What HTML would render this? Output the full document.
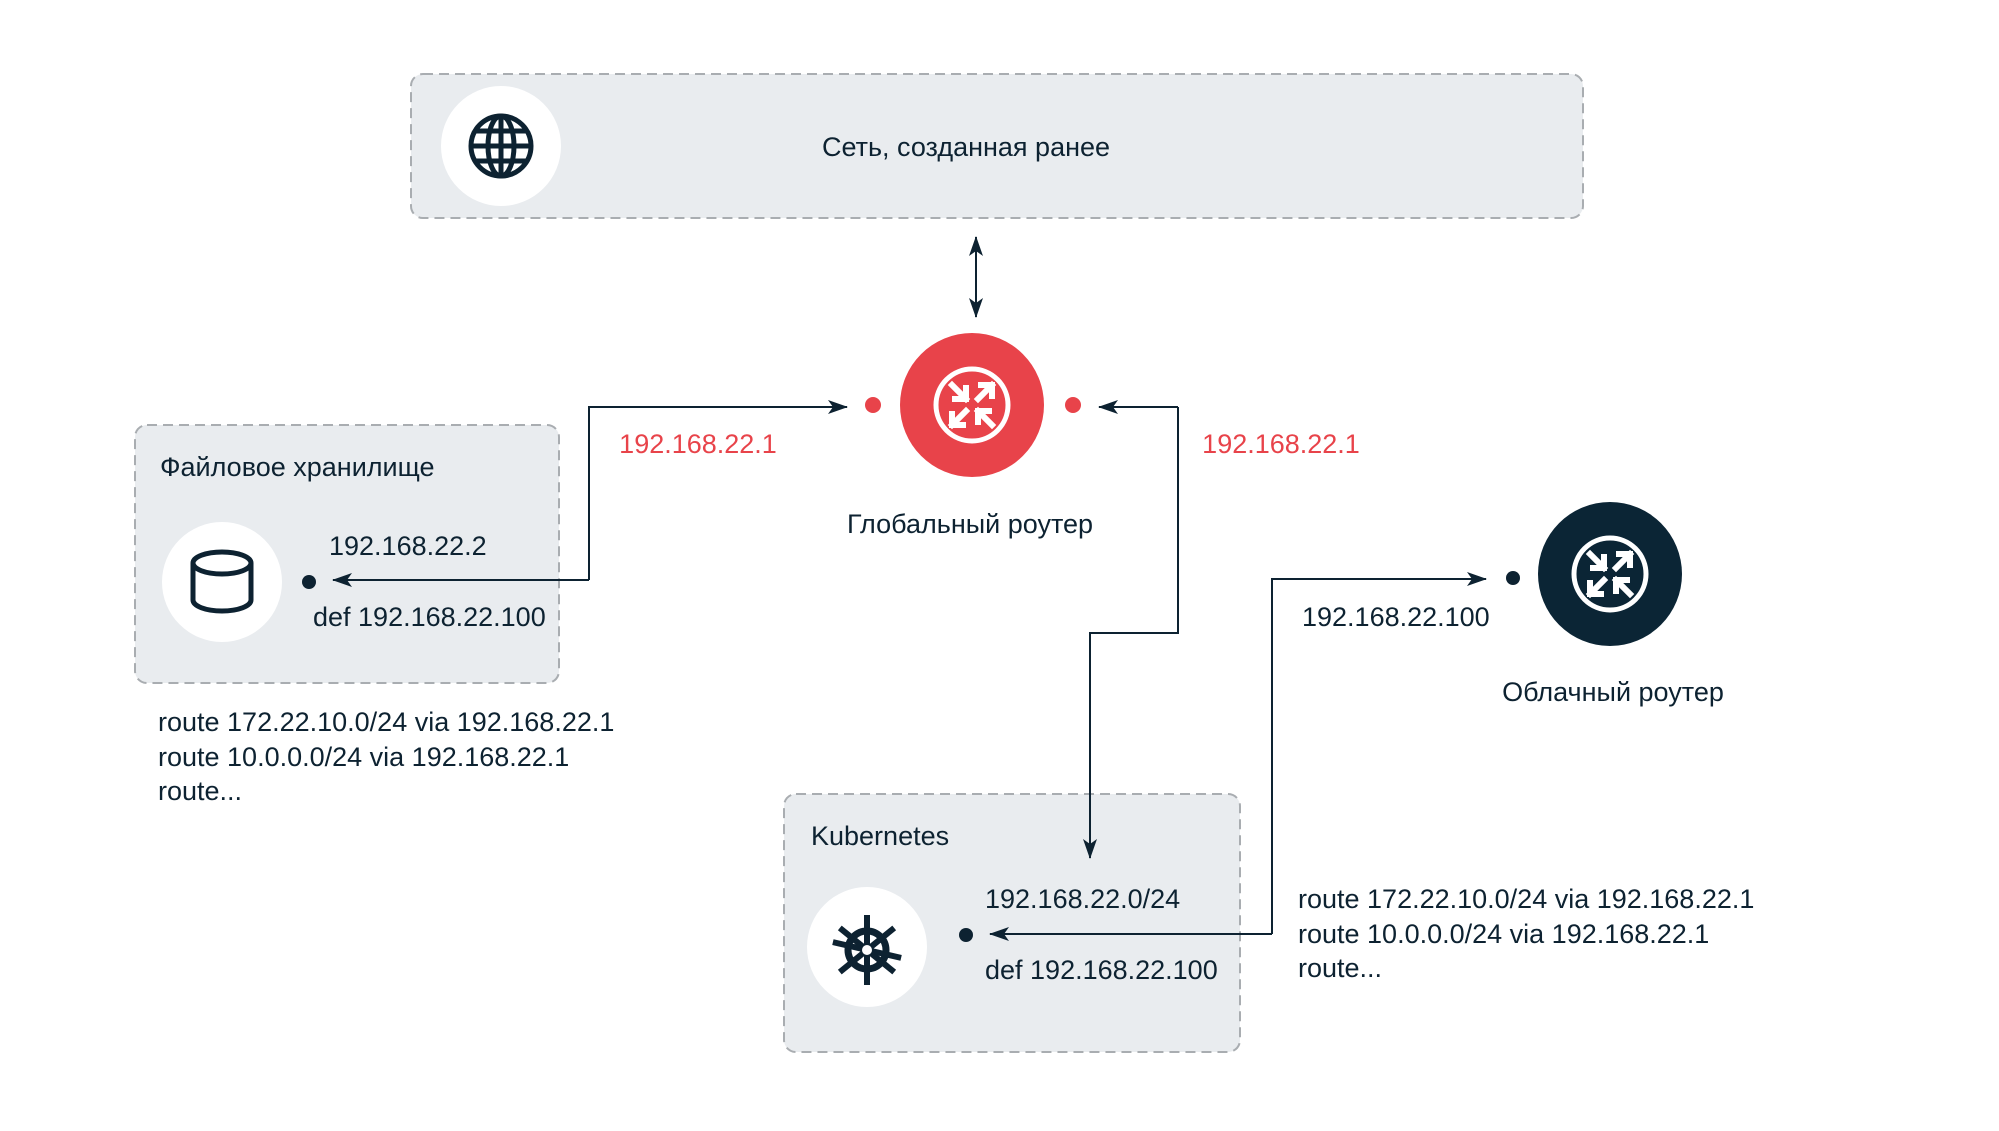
<!DOCTYPE html>
<html><head><meta charset="utf-8"><style>
html,body{margin:0;padding:0;background:#fff;}
body{width:1999px;height:1126px;overflow:hidden;}
text{font-family:"Liberation Sans",sans-serif;font-size:27px;fill:#0d2231;}
.r{fill:#e8434a;}
</style></head><body>
<svg width="1999" height="1126" viewBox="0 0 1999 1126" xmlns="http://www.w3.org/2000/svg">
<defs>
<marker id="ahs" markerWidth="20" markerHeight="16" refX="19" refY="8" orient="auto-start-reverse" markerUnits="userSpaceOnUse" viewBox="0 0 20 16"><path d="M0,1 L20,8 L0,15 L5,8 z" fill="#0d2231"/></marker>
<g id="rt" fill="none" stroke="#fff" stroke-width="5">
<circle r="36"/>
<g stroke-width="6" stroke-linecap="square">
<path d="M-20,-20 L-6,-6 M-6,-17 L-6,-6 L-17,-6"/>
<path d="M6,-6 L20,-20 M9,-20 L20,-20 L20,-9"/>
<path d="M-6,6 L-20,20 M-20,9 L-20,20 L-9,20"/>
<path d="M20,20 L6,6 M6,17 L6,6 L17,6"/>
</g>
</g>
</defs>
<rect x="411" y="74" width="1172" height="144" rx="12" fill="#e9ecef" stroke="#a9adb1" stroke-width="2" stroke-dasharray="10,6"/>
<circle cx="501" cy="146" r="60" fill="#fff"/>
<g fill="none" stroke="#0d2231" stroke-width="5" transform="translate(501,146)">
<circle r="30"/><ellipse rx="13" ry="30"/><line x1="-30" y1="0" x2="30" y2="0"/><line x1="0" y1="-30" x2="0" y2="30"/>
<line x1="-26" y1="-15" x2="26" y2="-15"/><line x1="-26" y1="15" x2="26" y2="15"/>
</g>
<text x="966" y="156" text-anchor="middle">Сеть, созданная ранее</text>
<line x1="976" y1="237" x2="976" y2="317" stroke="#0d2231" stroke-width="2" marker-start="url(#ahs)" marker-end="url(#ahs)"/>
<circle cx="972" cy="405" r="72" fill="#e8434a"/>
<use href="#rt" x="972" y="405"/>
<circle cx="873" cy="405" r="8" fill="#e8434a"/>
<circle cx="1073" cy="405" r="8" fill="#e8434a"/>
<text x="698" y="453" text-anchor="middle" class="r">192.168.22.1</text>
<text x="1281" y="453" text-anchor="middle" class="r">192.168.22.1</text>
<text x="970" y="533" text-anchor="middle">Глобальный роутер</text>
<rect x="135" y="425" width="424" height="258" rx="12" fill="#e9ecef" stroke="#a9adb1" stroke-width="2" stroke-dasharray="10,6"/>
<text x="160" y="476">Файловое хранилище</text>
<circle cx="222" cy="582" r="60" fill="#fff"/>
<g fill="none" stroke="#0d2231" stroke-width="5">
<ellipse cx="222" cy="563" rx="29" ry="11"/>
<path d="M193,563 L193,600 A29,11 0 0 0 251,600 L251,563"/>
</g>
<circle cx="309" cy="582" r="7" fill="#0d2231"/>
<text x="329" y="555">192.168.22.2</text>
<text x="313" y="626">def 192.168.22.100</text>
<text x="158" y="731">route 172.22.10.0/24 via 192.168.22.1</text>
<text x="158" y="766">route 10.0.0.0/24 via 192.168.22.1</text>
<text x="158" y="800">route...</text>
<circle cx="1610" cy="574" r="72" fill="#0b2535"/>
<use href="#rt" x="1610" y="574"/>
<circle cx="1513" cy="578" r="7" fill="#0d2231"/>
<text x="1302" y="626">192.168.22.100</text>
<text x="1613" y="701" text-anchor="middle">Облачный роутер</text>
<rect x="784" y="794" width="456" height="258" rx="12" fill="#e9ecef" stroke="#a9adb1" stroke-width="2" stroke-dasharray="10,6"/>
<text x="811" y="845">Kubernetes</text>
<circle cx="867" cy="947" r="60" fill="#fff"/>
<g transform="translate(867,950)" stroke="#0d2231" fill="none">
<circle r="19" stroke-width="7"/>
<g stroke-width="6">
<line x1="0" y1="-35" x2="0" y2="35"/>
<line x1="0" y1="-35" x2="0" y2="35" transform="rotate(51)"/>
<line x1="0" y1="-35" x2="0" y2="35" transform="rotate(-51)"/>
<line x1="0" y1="-35" x2="0" y2="35" transform="rotate(103)"/>
</g>
<circle r="5" fill="#fff" stroke="none"/>
</g>
<circle cx="966" cy="935" r="7" fill="#0d2231"/>
<text x="985" y="908">192.168.22.0/24</text>
<text x="985" y="979">def 192.168.22.100</text>
<text x="1298" y="908">route 172.22.10.0/24 via 192.168.22.1</text>
<text x="1298" y="943">route 10.0.0.0/24 via 192.168.22.1</text>
<text x="1298" y="977">route...</text>
<!-- connectors -->
<polyline points="589,580 589,407 847,407" fill="none" stroke="#0d2231" stroke-width="2" marker-end="url(#ahs)"/>
<line x1="589" y1="580" x2="333" y2="580" stroke="#0d2231" stroke-width="2" marker-end="url(#ahs)"/>
<polyline points="1178,407 1178,633 1090,633 1090,858" fill="none" stroke="#0d2231" stroke-width="2" marker-end="url(#ahs)"/>
<line x1="1178" y1="407" x2="1099" y2="407" stroke="#0d2231" stroke-width="2" marker-end="url(#ahs)"/>
<polyline points="1272,934 1272,579 1486,579" fill="none" stroke="#0d2231" stroke-width="2" marker-end="url(#ahs)"/>
<line x1="1272" y1="934" x2="990" y2="934" stroke="#0d2231" stroke-width="2" marker-end="url(#ahs)"/>
</svg>
</body></html>
